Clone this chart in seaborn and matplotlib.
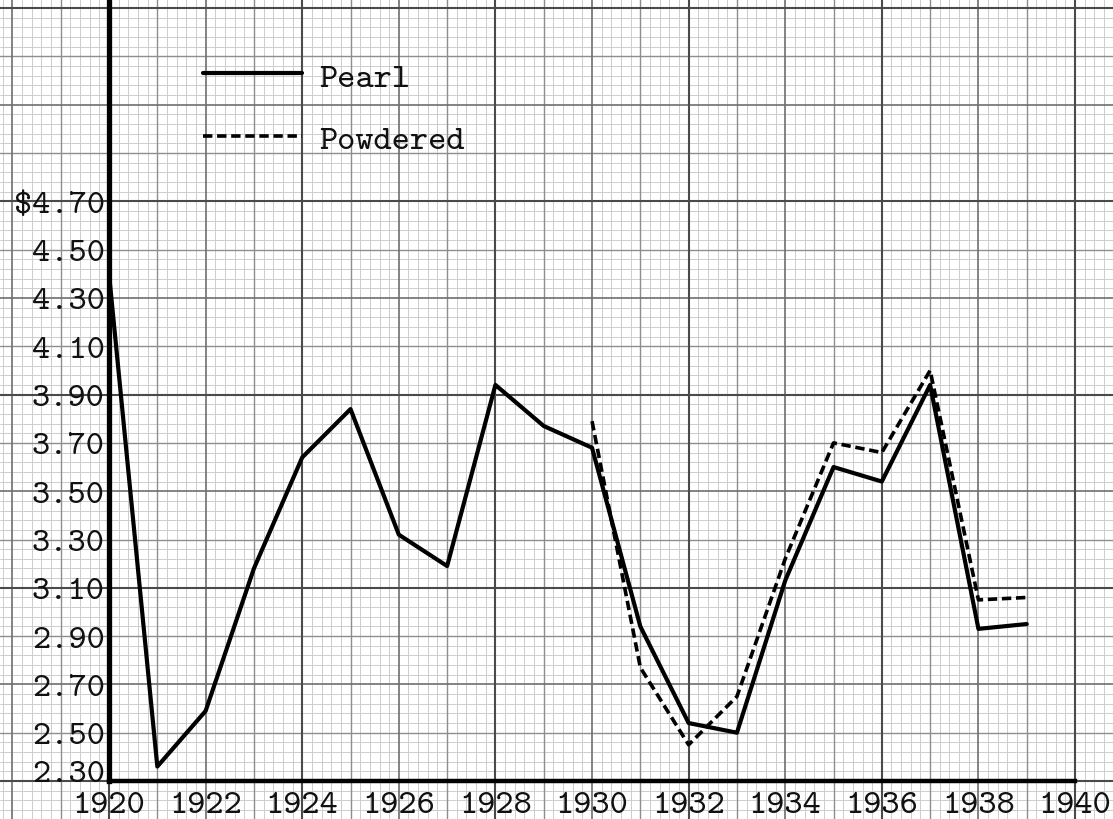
import numpy as np
import pandas as pd
import matplotlib
matplotlib.use("Agg")
import matplotlib.pyplot as plt
import seaborn as sns

# ---- data ----
pearl_years = list(range(1920, 1940))
pearl_prices = [4.40, 2.36, 2.59, 3.18, 3.64, 3.84, 3.32, 3.19, 3.94, 3.77,
                3.68, 2.94, 2.54, 2.50, 3.13, 3.60, 3.54, 3.94, 2.93, 2.95]
powdered_years = list(range(1930, 1940))
powdered_prices = [3.79, 2.77, 2.45, 2.65, 3.22, 3.70, 3.66, 4.00, 3.05, 3.06]

x_tick_years = list(range(1920, 1941, 2))
x_tick_labels = [str(y) for y in x_tick_years]
y_tick_values = [2.30, 2.50, 2.70, 2.90, 3.10, 3.30, 3.50, 3.70, 3.90, 4.10, 4.30, 4.50, 4.70]
y_tick_labels = ["2.30", "2.50", "2.70", "2.90", "3.10", "3.30", "3.50", "3.70",
                 "3.90", "4.10", "4.30", "4.50", r"\$4.70"]
series_names = ["Pearl", "Powdered"]

# ---- styling ----
sns.set_style("white")
plt.rcParams["font.family"] = ["cmtt10", "DejaVu Sans Mono"]
plt.rcParams["axes.unicode_minus"] = False

FS = 25
TXT = "#111111"
fig = plt.figure(figsize=(11.13, 8.20), dpi=100)
ax = fig.add_axes([0, 0, 1, 1])
x0, x1 = 1917.743, 1940.786
y0, y1 = 2.1427, 5.538
ax.set_xlim(x0, x1)
ax.set_ylim(y0, y1)


def paper_style(k):
    if k % 20 == 0:
        return "#4a4a4a", 1.5, 0.4
    if k % 10 == 0:
        return "#6e6e6e", 1.2, 0.3
    if k % 5 == 0:
        return "#8e8e8e", 1.0, 0.2
    return "#cdcdcd", 0.7, 0.1


# graph paper
for xv in np.arange(1920 - 2.2, x1 + 0.01, 0.2):
    c, lw, z = paper_style(int(round((xv - 1920) / 0.2)))
    ax.axvline(xv, color=c, lw=lw, zorder=z)
for yv in np.arange(2.30 - 0.16, y1 + 0.001, 0.04):
    c, lw, z = paper_style(int(round((yv - 2.30) / 0.04)))
    ax.axhline(yv, color=c, lw=lw, zorder=z)

df_pearl = pd.DataFrame({"year": pearl_years, "price": pearl_prices})
df_powd = pd.DataFrame({"year": powdered_years, "price": powdered_prices})

sns.lineplot(data=df_pearl, x="year", y="price", ax=ax, color="black",
             lw=3.0, label=series_names[0], zorder=3)
sns.lineplot(data=df_powd, x="year", y="price", ax=ax, color="black",
             lw=2.6, linestyle=(0, (2.6, 1.3)), label=series_names[1], zorder=3)

# axes (spines placed at the data origin)
for s in ["top", "right"]:
    ax.spines[s].set_visible(False)
ax.spines["left"].set_position(("data", 1920))
ax.spines["left"].set_bounds(2.30, y1)
ax.spines["left"].set_linewidth(3.8)
ax.spines["left"].set_color("black")
ax.spines["bottom"].set_position(("data", 2.30))
ax.spines["bottom"].set_bounds(1920, 1940)
ax.spines["bottom"].set_linewidth(3.2)
ax.spines["bottom"].set_color("black")

ax.set_xticks(x_tick_years)
ax.set_xticklabels(x_tick_labels)
ax.set_yticks(y_tick_values)
ax.set_yticklabels(y_tick_labels)
ax.tick_params(axis="both", length=0, labelsize=FS, colors=TXT)
ax.tick_params(axis="x", pad=7)
ax.tick_params(axis="y", pad=3)
ax.get_yticklabels()[0].set_va("baseline")
ax.set_xlabel("")
ax.set_ylabel("")

leg = ax.legend(loc="upper left", bbox_to_anchor=(0.1824, 0.924),
                bbox_transform=fig.transFigure, frameon=False, fontsize=FS,
                handlelength=2.85, handletextpad=0.5, labelspacing=0.87,
                borderpad=0, borderaxespad=0)
for t in leg.get_texts():
    t.set_color(TXT)

fig.savefig("out.png", dpi=100, facecolor="white")
